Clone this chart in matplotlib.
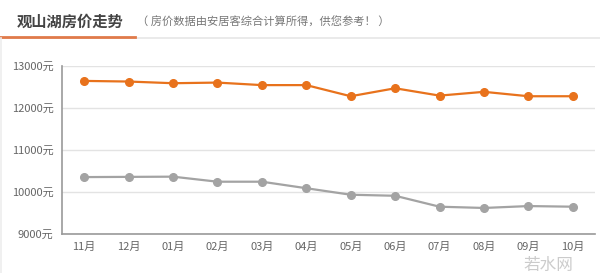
import numpy as np
import matplotlib
matplotlib.use("Agg")
import matplotlib.pyplot as plt
from matplotlib.lines import Line2D

plt.rcParams['font.family'] = ['Noto Sans CJK SC', 'DejaVu Sans']

# data
months = ["11月", "12月", "01月", "02月", "03月", "04月",
          "05月", "06月", "07月", "08月", "09月", "10月"]
price_a = [12645, 12630, 12590, 12605, 12545, 12545,
           12280, 12470, 12295, 12385, 12280, 12280]
price_b = [10355, 10360, 10365, 10245, 10245, 10090,
           9935, 9910, 9650, 9620, 9665, 9650]
yticks = [9000, 10000, 11000, 12000, 13000]

orange = "#E8721C"
grey = "#A3A3A3"

fig = plt.figure(figsize=(6, 2.73), dpi=100)
ax = fig.add_axes([62/600, 1-234/273, 533/600, 168/273])

x = np.arange(len(months))
ax.plot(x, price_a, "-o", color=orange, lw=1.6, ms=5.5, zorder=3)
ax.plot(x, price_b, "-o", color=grey, lw=1.6, ms=5.5, zorder=3)

ax.set_xlim(-0.5, len(months) - 0.5)
ax.set_ylim(9000, 13000)
ax.set_yticks(yticks)
ax.set_yticklabels([f"{v}元" for v in yticks])
ax.set_xticks(x)
ax.set_xticklabels(months)
ax.tick_params(axis="both", length=0, labelsize=8, colors="#666666")
ax.tick_params(axis="x", pad=6)
ax.tick_params(axis="y", pad=6)
ax.grid(axis="y", color="#E3E3E3", lw=1)
ax.set_axisbelow(True)
for s in ["top", "right"]:
    ax.spines[s].set_visible(False)
for s in ["left", "bottom"]:
    ax.spines[s].set_color("#999999")
    ax.spines[s].set_linewidth(1.2)

# header
fig.text(17/600, 1-22/273, "观山湖房价走势", fontsize=11, color="#444444",
         fontweight="bold", va="center")
fig.text(137/600, 1-22/273, "（ 房价数据由安居客综合计算所得，供您参考！ ）",
         fontsize=8.1, color="#777777", va="center")
fig.add_artist(Line2D([0, 1], [1-38/273, 1-38/273], color="#E6E6E6", lw=1.2))
fig.add_artist(Line2D([0, 135/600], [1-37/273, 1-37/273], color="#E07A4A", lw=2))
fig.add_artist(Line2D([1/600, 1/600], [0, 1-38/273], color="#EEEEEE", lw=1.2))

# watermark
fig.text(548/600, 1-265/273, "若水网", fontsize=12, color="#999999",
         alpha=0.5, ha="center", va="center")

fig.savefig("out.png", dpi=100)
